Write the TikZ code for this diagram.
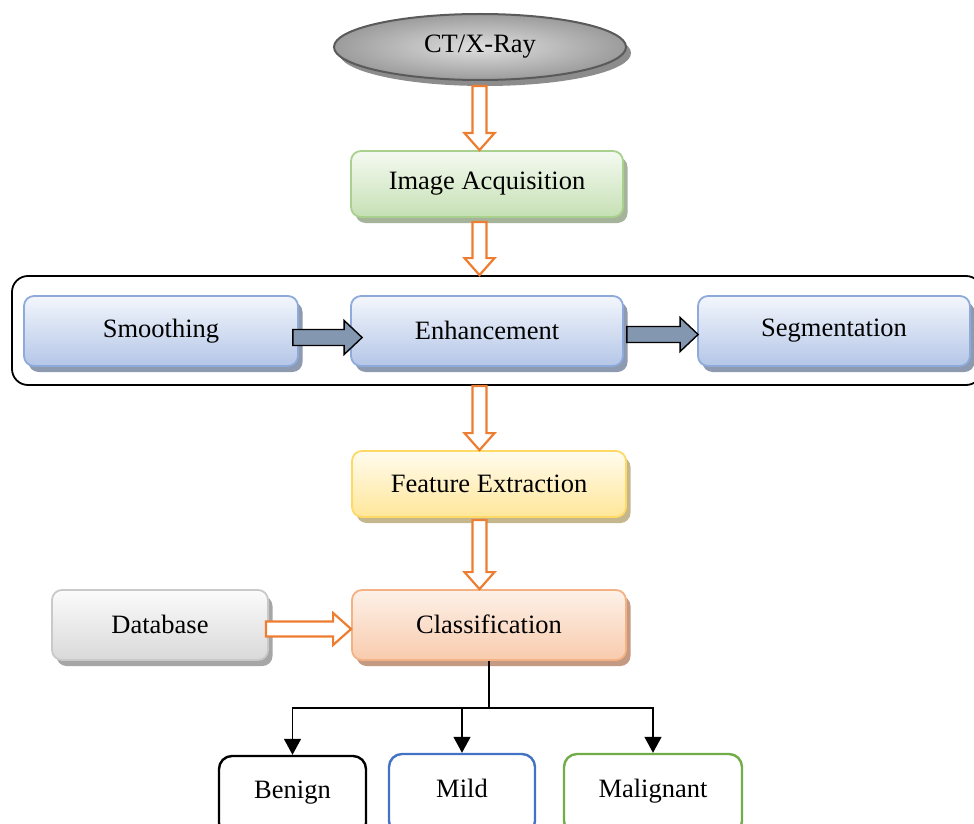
\documentclass[tikz,border=0pt]{standalone}
\usepackage{fontspec}
\setmainfont{Liberation Serif}
\usetikzlibrary{shapes.geometric,shadows,calc,arrows.meta}
\definecolor{bBorder}{HTML}{8EAADB}
\definecolor{bTop}{HTML}{F3F6FC}
\definecolor{bBot}{HTML}{B4C6E7}
\definecolor{bShadow}{HTML}{8D9AB0}
\definecolor{gBorder}{HTML}{A9D18E}
\definecolor{gTop}{HTML}{F5FAF1}
\definecolor{gBot}{HTML}{C5E0B4}
\definecolor{gShadow}{HTML}{A5B39B}
\definecolor{yBorder}{HTML}{FFD966}
\definecolor{yTop}{HTML}{FFFCEE}
\definecolor{yBot}{HTML}{FFE699}
\definecolor{yShadow}{HTML}{C4B78E}
\definecolor{oBorder}{HTML}{F4B183}
\definecolor{oTop}{HTML}{FDF1E8}
\definecolor{oBot}{HTML}{F8CBAD}
\definecolor{oShadow}{HTML}{C49A82}
\definecolor{grBorder}{HTML}{C9C9C9}
\definecolor{grTop}{HTML}{FBFBFB}
\definecolor{grBot}{HTML}{D9D9D9}
\definecolor{grShadow}{HTML}{A6A6A6}
\definecolor{ellBorder}{HTML}{5A5A5A}
\definecolor{ellShadow}{HTML}{8C8C8C}
\definecolor{blockFill}{HTML}{8497B0}
\definecolor{arrOrange}{HTML}{ED7D31}
\definecolor{mildBlue}{HTML}{4472C4}
\definecolor{malGreen}{HTML}{70AD47}
\newcommand\hollowdown[2]{\draw[hollowarrow] ($(#1)+(-7,0)$) -- ($(#2)+(-7,-17)$) -- ($(#2)+(-15,-17)$) -- (#2) -- ($(#2)+(15,-17)$) -- ($(#2)+(7,-17)$) -- ($(#1)+(7,0)$) -- cycle;}
\newcommand\hollowright[2]{\draw[hollowarrow] ($(#1)+(0,-7.5)$) -- ($(#2)+(-18,-7.5)$) -- ($(#2)+(-18,-16)$) -- (#2) -- ($(#2)+(-18,16)$) -- ($(#2)+(-18,7.5)$) -- ($(#1)+(0,7.5)$) -- cycle;}
\newcommand\blockright[2]{\draw[blockarrow] ($(#1)+(0,-8)$) -- ($(#2)+(-18,-8)$) -- ($(#2)+(-18,-17)$) -- (#2) -- ($(#2)+(-18,17)$) -- ($(#2)+(-18,8)$) -- ($(#1)+(0,8)$) -- cycle;}
\begin{document}
\begin{tikzpicture}[x=1pt,y=-1pt,
  txt/.style={font=\fontsize{26.5}{30}\selectfont, inner sep=0pt},
  box/.style={txt, draw, line width=1.8pt, rounded corners=10pt},
  bluebox/.style={box, draw=bBorder, top color=bTop, bottom color=bBot,
    general shadow={fill=bShadow, shadow xshift=4.5pt, shadow yshift=-6pt},
    minimum width=272pt, minimum height=70pt},
  greenbox/.style={box, draw=gBorder, top color=gTop, bottom color=gBot,
    general shadow={fill=gShadow, shadow xshift=4.5pt, shadow yshift=-6pt}},
  yellowbox/.style={box, draw=yBorder, top color=yTop, bottom color=yBot,
    general shadow={fill=yShadow, shadow xshift=4.5pt, shadow yshift=-6pt}},
  orangebox/.style={box, draw=oBorder, top color=oTop, bottom color=oBot,
    general shadow={fill=oShadow, shadow xshift=4.5pt, shadow yshift=-6pt}},
  graybox/.style={box, draw=grBorder, top color=grTop, bottom color=grBot,
    general shadow={fill=grShadow, shadow xshift=4.5pt, shadow yshift=-6pt}},
  outbox/.style={txt, draw, line width=2.4pt, rounded corners=13pt, fill=white,
    minimum height=80pt},
  frame/.style={draw=black, line width=1.8pt, rounded corners=16pt},
  hollowarrow/.style={draw=arrOrange, fill=white, line width=2.2pt, line join=miter},
  blockarrow/.style={draw=black, fill=blockFill, line width=1.4pt, line join=miter},
  tree/.style={draw=black, line width=1.5pt},
  treearrow/.style={tree, -{Triangle[width=17pt,length=16pt]}}
]
\useasboundingbox (0,0) rectangle (974,824);

% outer frame
\node[frame, minimum width=970pt, minimum height=109pt] (frame) at (497,330.5) {};

% ellipse
\node[txt, ellipse, draw=ellBorder, line width=2pt, inner color=gray!25, outer color=gray!78,
  general shadow={fill=ellShadow, shadow xshift=5pt, shadow yshift=-6pt},
  minimum width=292pt, minimum height=66pt] (ct) at (480,47) {\raisebox{-2pt}{CT/X-Ray}};

\node[greenbox, minimum width=272pt, minimum height=66pt] (acq) at (487,184) {Image Acquisition};

\node[bluebox, minimum width=274pt] (sm) at (161,331) {\raisebox{2pt}{Smoothing}};
\node[bluebox] (en) at (487,331) {\raisebox{2pt}{Enhancement}};
\node[bluebox] (seg) at (834,331) {\raisebox{2pt}{Segmentation}};

\node[yellowbox, minimum width=274pt, minimum height=66pt] (fe) at (489,484) {Feature Extraction};
\node[orangebox, minimum width=274pt, minimum height=70pt] (cl) at (489,625) {\raisebox{2pt}{Classification}};
\node[graybox, minimum width=216pt, minimum height=70pt] (db) at (160,625) {\raisebox{2pt}{Database}};

\node[outbox, minimum width=147pt] (ben) at (292.5,796) {\raisebox{12pt}{Benign}};
\node[outbox, draw=mildBlue, minimum width=146pt] (mild) at (462,794) {\raisebox{12pt}{Mild}};
\node[outbox, draw=malGreen, minimum width=178pt] (mal) at (653,794) {\raisebox{12pt}{Malignant}};

% hollow orange arrows
\coordinate (ax) at (479.5,0);
\coordinate (h1s) at ($(ax |- ct.south)+(0,5)$);
\coordinate (h1t) at (ax |- acq.north);
\hollowdown{h1s}{h1t}
\coordinate (h2s) at ($(ax |- acq.south)+(0,4)$);
\coordinate (h2t) at (ax |- frame.north);
\hollowdown{h2s}{h2t}
\coordinate (h3s) at (ax |- frame.south);
\coordinate (h3t) at (ax |- fe.north);
\hollowdown{h3s}{h3t}
\coordinate (h4s) at ($(ax |- fe.south)+(0,2)$);
\coordinate (h4t) at (ax |- cl.north);
\hollowdown{h4s}{h4t}
\coordinate (h5s) at ($(db.east)+(-3,4)$);
\coordinate (h5t) at ($(cl.west)+(0,4)$);
\hollowright{h5s}{h5t}

% block arrows
\coordinate (b1s) at ($(sm.east)+(-6,6.5)$);
\coordinate (b1t) at ($(en.west)+(12,6.5)$);
\blockright{b1s}{b1t}
\coordinate (b2s) at ($(en.east)+(3,3.5)$);
\coordinate (b2t) at ($(seg.west)+(1,3.5)$);
\blockright{b2s}{b2t}

% tree
\coordinate (split) at ($(cl.south)+(0,47)$);
\draw[tree] (cl.south) -- (split);
\draw[treearrow] (split) -| (ben.north);
\draw[treearrow] (split) -| (mild.north);
\draw[treearrow] (split) -| (mal.north);
\end{tikzpicture}
\end{document}
